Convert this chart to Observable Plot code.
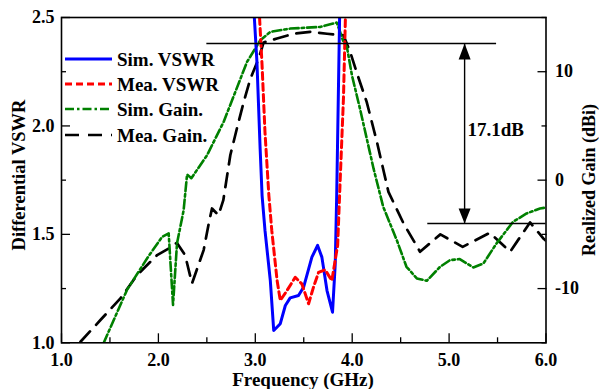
<!DOCTYPE html>
<html><head><meta charset="utf-8">
<script src="https://cdn.jsdelivr.net/npm/d3@7"></script>
<script src="https://cdn.jsdelivr.net/npm/@observablehq/plot@0.6"></script>
<style>body{margin:0;background:#fff} svg{display:block} svg text{font-family:"Liberation Serif","DejaVu Serif",serif !important;}</style>
</head><body><div id="chart"></div>
<script>
// ---- data (frequency in GHz) ----
const simVswrFreq = [2.99,3.017,3.05,3.07,3.10,3.155,3.19,3.258,3.31,3.36,3.446,3.498,3.584,3.643,3.687,3.74,3.797,3.825,3.84,3.87];
const simVswr     = [2.5,2.294,1.894,1.679,1.518,1.287,1.057,1.088,1.172,1.207,1.218,1.256,1.395,1.449,1.395,1.241,1.141,1.364,1.679,2.5];

const meaVswrFreq = [3.044,3.07,3.10,3.14,3.17,3.225,3.258,3.327,3.412,3.48,3.55,3.60,3.653,3.72,3.79,3.85,3.876,3.91,3.93];
const meaVswr     = [2.5,2.278,1.971,1.679,1.518,1.287,1.195,1.241,1.302,1.272,1.180,1.256,1.325,1.337,1.287,1.45,1.75,2.13,2.5];

const simGainFreq = [1.436,1.677,1.894,2.038,2.106,2.151,2.192,2.26,2.296,2.34,2.502,2.673,2.794,2.914,3.052,3.155,3.361,3.67,3.84,3.87,3.91,3.945,3.997,4.08,4.22,4.32,4.46,4.56,4.667,4.77,4.907,5.01,5.11,5.25,5.354,5.49,5.66,5.80,5.938,6.0];
const simGain     = [-15.0,-10.1,-7.07,-5.23,-4.91,-11.5,-5.83,-2.8,0.53,0.18,2.3,5.37,8.14,10.9,12.9,13.67,13.98,14.13,14.53,13.8,12.75,12.3,9.68,6.6,1.08,-2.46,-5.53,-7.99,-9.06,-9.28,-7.99,-7.37,-7.28,-8.05,-7.68,-5.83,-3.84,-3.07,-2.61,-2.53];

const meaGainFreq = [1.196,1.402,1.608,1.78,1.987,2.106,2.19,2.275,2.347,2.467,2.52,2.553,2.62,2.67,2.742,2.81,2.88,2.95,3.034,3.086,3.224,3.395,3.567,3.74,3.91,3.98,4.05,4.15,4.255,4.374,4.53,4.70,4.91,5.14,5.42,5.63,5.835,5.97,6.0];
const meaGain     = [-14.9,-12.9,-10.9,-8.76,-6.91,-6.3,-5.78,-6.9,-9.52,-6.45,-3.99,-2.61,-3.23,-1.84,2.3,4.76,7.2,9.37,11.2,12.7,13.06,13.5,13.67,13.5,13.36,11.8,9.83,7.2,3.53,-1.08,-3.99,-6.6,-5.0,-6.15,-4.86,-6.6,-3.9,-5.35,-5.6];

const xMajorTicks = [1,2,3,4,5,6];
const xMinorTicks = [1.5,2.5,3.5,4.5,5.5];
const vswrMajorTicks = [1.0,1.5,2.0,2.5];
const vswrMinorTicks = [1.25,1.75,2.25];
const gainMajorTicks = [-10,0,10];
const gainMinorTicks = [-15,-5,5,15];

// annotation: 17.1 dB span
const annoLevels = [12.6, -4.0];          // gain (dBi)
const annoLineFrom = [2.50, 4.78];        // GHz
const annoLineTo = [5.49, 6.0];           // GHz
const annoArrowFreq = [5.16];
const annoLabel = ["17.1dB"];
const annoLabelFreq = [5.19];
const annoLabelGain = [4.6];

const legendNames = ["Sim. VSWR","Mea. VSWR","Sim. Gain.","Mea. Gain."];
const legendColors = ["#0000ff","#ff0000","#008000","#000000"];
const legendDash = [null,"7,4","9,3,2.5,3","14,9"];
const legendWidth = [3,3,2.6,2.7];

// ---- build ----
const g2v = g => 1.75 + g / 20;   // right axis (-15..15 dBi) onto left axis (1..2.5)
const v2g = v => Math.round((v - 1.75) * 20);
const rows = (fs, vs, conv = d => d) => fs.map((f, i) => ({f, v: conv(vs[i])}));
const simVswrData = rows(simVswrFreq, simVswr);
const meaVswrData = rows(meaVswrFreq, meaVswr);
const simGainData = rows(simGainFreq, simGain, g2v);
const meaGainData = rows(meaGainFreq, meaGain, g2v);
const annoLines = annoLevels.map((g, i) => ({x1: annoLineFrom[i], x2: annoLineTo[i], y: g2v(g)}));
const arrow = annoArrowFreq.map(f => ({x: f, y1: g2v(annoLevels[0]), y2: g2v(annoLevels[1])}));

const upTri = {draw(c){c.moveTo(0,0);c.lineTo(-6,16);c.lineTo(6,16);c.closePath();}};
const downTri = {draw(c){c.moveTo(0,0);c.lineTo(-6,-15);c.lineTo(6,-15);c.closePath();}};

const FONT = "Liberation Serif";
const plot = Plot.plot({
  width: 599, height: 389,
  marginLeft: 61, marginRight: 53.5, marginTop: 17, marginBottom: 46.7,
  x: {domain: [1, 6]},
  y: {domain: [1, 2.5]},
  style: {fontFamily: FONT, fontWeight: "bold", fontSize: "18px", color: "black", background: "white", overflow: "visible"},
  marks: [
    Plot.line(meaGainData, {x: "f", y: "v", stroke: legendColors[3], strokeWidth: legendWidth[3], strokeDasharray: legendDash[3], clip: true}),
    Plot.line(simGainData, {x: "f", y: "v", stroke: legendColors[2], strokeWidth: legendWidth[2], strokeDasharray: legendDash[2], clip: true}),
    Plot.line(simVswrData, {x: "f", y: "v", stroke: legendColors[0], strokeWidth: legendWidth[0], clip: true}),
    Plot.line(meaVswrData, {x: "f", y: "v", stroke: legendColors[1], strokeWidth: legendWidth[1], strokeDasharray: legendDash[1], clip: true}),
    Plot.ruleY(annoLines, {x1: "x1", x2: "x2", y: "y", stroke: "black", strokeWidth: 1.4}),
    Plot.ruleX(arrow, {x: "x", y1: "y1", y2: "y2", stroke: "black", strokeWidth: 1.4}),
    Plot.dot(arrow, {x: "x", y: "y1", symbol: upTri, fill: "black", stroke: "none"}),
    Plot.dot(arrow, {x: "x", y: "y2", symbol: downTri, fill: "black", stroke: "none"}),
    Plot.text(annoLabel, {x: annoLabelFreq, y: annoLabelGain.map(g2v), text: d => d, textAnchor: "start", fontSize: 19, fontWeight: "bold"}),
    Plot.frame({stroke: "black", strokeWidth: 1.6}),
    // bottom axis
    Plot.axisX(xMajorTicks, {anchor: "bottom", tickSize: 0, tickPadding: 10, tickFormat: d => d.toFixed(1), label: null, fontSize: 18}),
    Plot.axisX(xMajorTicks, {anchor: "bottom", tickSize: -9, fill: "none", label: null, strokeWidth: 1.3}),
    Plot.axisX(xMinorTicks, {anchor: "bottom", tickSize: -5, fill: "none", label: null, strokeWidth: 1.3}),
    // left axis
    Plot.axisY(vswrMajorTicks, {anchor: "left", tickSize: 0, tickPadding: 7, tickFormat: d => d.toFixed(1), label: null, fontSize: 18}),
    Plot.axisY(vswrMajorTicks, {anchor: "left", tickSize: -9, fill: "none", label: null, strokeWidth: 1.3}),
    Plot.axisY(vswrMinorTicks, {anchor: "left", tickSize: -5, fill: "none", label: null, strokeWidth: 1.3}),
    // right axis (gain)
    Plot.axisY(gainMajorTicks.map(g2v), {anchor: "right", tickSize: 0, tickPadding: 9, tickFormat: v2g, label: null, fontSize: 18}),
    Plot.axisY(gainMajorTicks.map(g2v), {anchor: "right", tickSize: -9, fill: "none", label: null, strokeWidth: 1.3}),
    Plot.axisY(gainMinorTicks.map(g2v), {anchor: "right", tickSize: -5, fill: "none", label: null, strokeWidth: 1.3})
  ]
});

const svg = d3.select(plot);
const addText = (txt, attrs) => {
  const t = svg.append("text").attr("font-family", FONT).attr("font-weight", "bold").attr("fill", "black").text(txt);
  Object.entries(attrs).forEach(([k, v]) => t.attr(k, v));
  return t;
};
// axis titles
addText("Frequency (GHz)", {x: 303, y: 386, "text-anchor": "middle", "font-size": 19});
addText("Differential VSWR", {transform: "translate(24.5,175) rotate(-90)", "text-anchor": "middle", "font-size": 18.5});
addText("Realized Gain (dBi)", {transform: "translate(595,180) rotate(-90)", "text-anchor": "middle", "font-size": 18});
// legend
const legY = [59, 84, 109, 135];
legendNames.forEach((name, i) => {
  const ln = svg.append("line").attr("x1", 65).attr("x2", 112).attr("y1", legY[i]).attr("y2", legY[i])
    .attr("stroke", legendColors[i]).attr("stroke-width", legendWidth[i]);
  if (legendDash[i]) ln.attr("stroke-dasharray", legendDash[i]);
  addText(name, {x: 117, y: legY[i] + 6.5, "text-anchor": "start", "font-size": 19});
});
document.getElementById("chart").append(plot);
</script>
</body></html>
